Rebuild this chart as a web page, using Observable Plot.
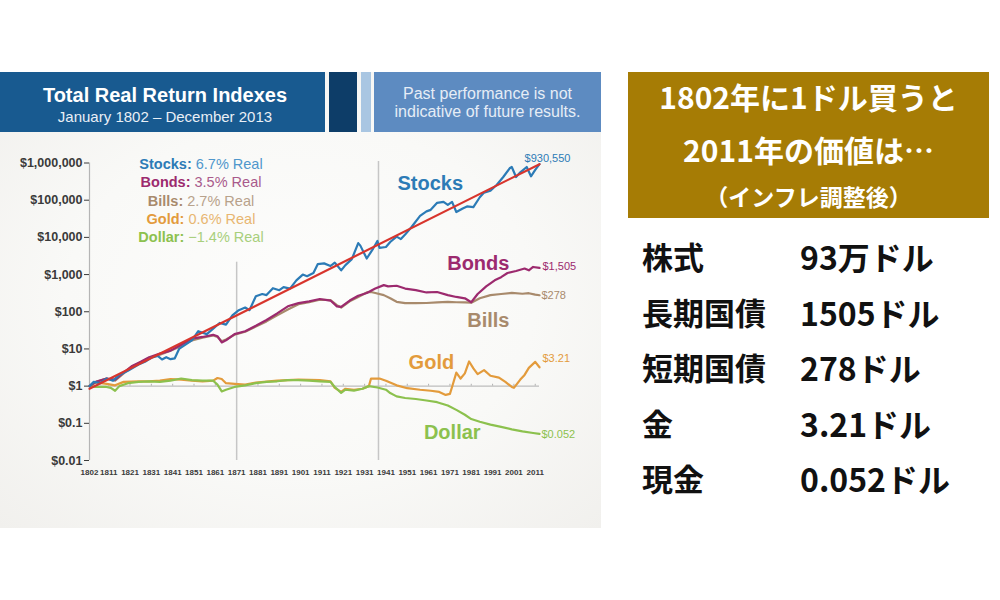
<!DOCTYPE html>
<html>
<head>
<meta charset="utf-8">
<script src="https://cdn.jsdelivr.net/npm/d3@7"></script>
<script src="https://cdn.jsdelivr.net/npm/@observablehq/plot@0.6"></script>
<style>
  html, body { margin: 0; padding: 0; background: #ffffff; }
  body { width: 1000px; height: 600px; position: relative; overflow: hidden; font-family: "Liberation Sans", Arial, sans-serif; }
  #panel { position: absolute; left: 0; top: 72px; width: 601px; height: 456px;
    background: radial-gradient(ellipse at 50% 50%, #fdfdfc 0%, #f9f9f7 55%, #f1f0ed 100%); overflow: hidden; }
  .blk { position: absolute; top: 0; height: 60px; }
  #hdr1 { left: 0; width: 325px; background: #185a90; }
  #hdr2 { left: 329px; width: 28px; background: #0d3d68; }
  #hdr3 { left: 361px; width: 10px; background: #a9c6e2; }
  #hdr4 { left: 374px; width: 227px; background: #5d8bc1; }
  #title { position: absolute; left: 0; width: 330px; top: 12px; text-align: center; color: #fff; font-weight: bold; font-size: 20px; }
  #subtitle { position: absolute; left: 0; width: 330px; top: 36px; text-align: center; color: #e9eff6; font-size: 15px; }
  #note { position: absolute; left: 374px; width: 227px; top: 13px; text-align: center; color: #e6edf6; font-size: 16px; line-height: 18px; }
  #chart { position: absolute; left: 0; top: 0; }
  #legend { position: absolute; left: 101px; width: 200px; top: 83px; text-align: center; font-size: 14.5px; line-height: 18.3px; }
  #legend b { font-weight: bold; }
  #jbox { position: absolute; left: 628px; top: 72px; width: 361px; height: 146px; background: #a67c05; color: #fff;
    font-family: "Noto Sans CJK JP", sans-serif; font-weight: bold; text-align: center; }
  #jbox .l1 { position: absolute; left: 0; width: 100%; top: 4px; font-size: 30px; line-height: 40px; }
  #jbox .l2 { position: absolute; left: 0; width: 100%; top: 57px; font-size: 30px; line-height: 40px; }
  #jbox .l3 { position: absolute; left: 0; width: 100%; top: 108px; font-size: 23px; line-height: 32px; }
  .row { position: absolute; left: 642px; font-family: "Noto Sans CJK JP", sans-serif; font-weight: bold; font-size: 31px; color: #111; line-height: 40px; height: 40px; }
  .row span.v { position: absolute; left: 158px; white-space: nowrap; font-size: 32px; }
  .row span.k { white-space: nowrap; }
</style>
</head>
<body>
<div id="panel">
  <div class="blk" id="hdr1"></div>
  <div class="blk" id="hdr2"></div>
  <div class="blk" id="hdr3"></div>
  <div class="blk" id="hdr4"></div>
  <div id="title">Total Real Return Indexes</div>
  <div id="subtitle">January 1802 – December 2013</div>
  <div id="note">Past performance is not<br>indicative of future results.</div>
  <div id="chart"></div>
  <div id="legend"></div>
</div>
<div id="jbox">
  <div class="l1">1802年に1ドル買うと</div>
  <div class="l2">2011年の価値は…</div>
  <div class="l3">（インフレ調整後）</div>
</div>
<div id="table"></div>
<script>
// ---------- data ----------
const xTickYears = [1802,1811,1821,1831,1841,1851,1861,1871,1881,1891,1901,1911,1921,1931,1941,1951,1961,1971,1981,1991,2001,2011];
const yTickValues = [0.01,0.1,1,10,100,1000,10000,100000,1000000];
const yTickLabels = ["$0.01","$0.1","$1","$10","$100","$1,000","$10,000","$100,000","$1,000,000"];

const stocks = [[1802,1],[1804,1.3],[1807,1.2],[1810,1.6],[1813,1.4],[1816,2],[1820,2.6],[1825,3.8],[1828,4.5],[1831,5.8],[1834,6.5],[1836,5.2],[1838,6.0],[1840,5.3],[1842,5.6],[1844,10],[1847,13],[1850,17],[1853,30],[1857,25],[1860,35],[1863,50],[1866,45],[1869,80],[1872,110],[1875,130],[1877,110],[1880,260],[1883,300],[1885,280],[1888,430],[1891,380],[1893,460],[1896,420],[1899,700],[1902,1000],[1904,900],[1907,1100],[1909,1900],[1912,2000],[1915,1700],[1917,2100],[1920,1300],[1922,1800],[1925,2600],[1928,7000],[1929,6000],[1932,2700],[1935,5000],[1937,8000],[1938,5200],[1941,5500],[1943,7500],[1946,10500],[1948,9000],[1950,12000],[1953,19000],[1957,38000],[1960,50000],[1962,55000],[1965,85000],[1968,90000],[1970,75000],[1972,90000],[1974,48000],[1977,60000],[1979,68000],[1982,65000],[1985,120000],[1987,160000],[1990,180000],[1993,260000],[1996,420000],[1999,720000],[2000,780000],[2002,420000],[2004,560000],[2007,780000],[2009,440000],[2011,650000],[2013,930550]];

const bonds = [[1802,1],[1805,1.3],[1810,1.6],[1814,1.5],[1818,2.3],[1822,3.5],[1826,4.5],[1830,6],[1835,7.5],[1840,9],[1845,13],[1850,19],[1855,21],[1860,24],[1862,22],[1864,15],[1866,17],[1870,25],[1875,30],[1880,42],[1885,60],[1890,90],[1895,140],[1900,170],[1905,190],[1910,220],[1915,200],[1918,140],[1920,135],[1924,200],[1928,270],[1932,320],[1936,420],[1940,520],[1942,480],[1946,500],[1950,420],[1955,380],[1960,330],[1965,340],[1970,280],[1974,250],[1978,230],[1981,180],[1984,300],[1988,480],[1992,700],[1995,850],[1998,1100],[2002,1250],[2006,1450],[2008,1300],[2010,1600],[2013,1505]];

const bills = [[1802,1],[1805,1.3],[1810,1.6],[1814,1.4],[1818,2.2],[1822,3.4],[1826,4.3],[1830,5.8],[1835,7],[1840,9],[1845,12],[1850,17],[1855,20],[1860,23],[1862,21],[1864,16],[1866,18],[1870,24],[1875,29],[1880,40],[1885,55],[1890,80],[1895,115],[1900,160],[1905,180],[1910,210],[1915,205],[1918,150],[1920,130],[1924,190],[1928,250],[1932,330],[1934,340],[1936,320],[1940,280],[1943,230],[1946,185],[1950,170],[1955,170],[1960,172],[1965,178],[1970,185],[1974,180],[1978,178],[1981,175],[1985,230],[1990,280],[1995,300],[2000,320],[2005,305],[2008,315],[2011,290],[2013,278]];

const gold = [[1802,1],[1805,1.25],[1810,1.15],[1814,1.05],[1818,1.3],[1825,1.35],[1830,1.35],[1835,1.4],[1840,1.55],[1845,1.5],[1850,1.4],[1855,1.35],[1860,1.4],[1862,1.65],[1864,1.55],[1866,1.2],[1870,1.15],[1875,1.1],[1880,1.25],[1890,1.4],[1900,1.5],[1910,1.45],[1915,1.35],[1917,0.9],[1920,0.7],[1922,0.85],[1926,0.8],[1930,0.85],[1933,1.0],[1934,1.6],[1938,1.6],[1941,1.4],[1946,1.05],[1951,0.88],[1957,0.8],[1962,0.75],[1966,0.7],[1969,0.58],[1971,0.62],[1972,0.95],[1974,2.3],[1976,1.6],[1978,2.2],[1980,4.6],[1982,3.0],[1984,2.1],[1987,2.7],[1990,1.9],[1994,1.7],[1997,1.3],[2000,0.95],[2001,0.9],[2004,1.5],[2006,2.0],[2008,3.1],[2011,4.5],[2013,3.21]];

const dollar = [[1802,1],[1805,0.95],[1810,0.95],[1812,0.9],[1814,0.75],[1816,1.0],[1820,1.2],[1825,1.3],[1830,1.35],[1835,1.3],[1840,1.4],[1845,1.6],[1850,1.45],[1855,1.4],[1860,1.4],[1862,1.1],[1864,0.72],[1866,0.8],[1870,0.95],[1875,1.05],[1880,1.2],[1885,1.3],[1890,1.35],[1895,1.45],[1900,1.45],[1905,1.4],[1910,1.35],[1915,1.3],[1917,0.95],[1920,0.66],[1922,0.8],[1926,0.76],[1930,0.85],[1933,1.0],[1937,0.92],[1941,0.8],[1943,0.65],[1946,0.53],[1950,0.48],[1955,0.45],[1960,0.41],[1965,0.37],[1970,0.3],[1974,0.23],[1978,0.17],[1981,0.13],[1985,0.11],[1990,0.092],[1995,0.08],[2000,0.069],[2005,0.061],[2010,0.055],[2013,0.052]];

const trend = [[1802,0.85],[2013,930550]];

const eraLines = [[1871,2150],[1937.5,1100000]];

const legendRows = [["Stocks:","6.7% Real"],["Bonds:","3.5% Real"],["Bills:","2.7% Real"],["Gold:","0.6% Real"],["Dollar:","\u22121.4% Real"]];
const seriesNames = ["Stocks","Bonds","Bills","Gold","Dollar"];
const endLabels = ["$930,550","$1,505","$278","$3.21","$0.052"];
// label anchors in data units (year, value)
const nameAnchors = [[1961.8,287000],[1984.3,2025],[1989,59.5],[1962.3,4.42],[1972.1,0.058]];

const tableKeys = ["株式","長期国債","短期国債","金","現金"];
const tableVals = ["93万ドル","1505ドル","278ドル","3.21ドル","0.052ドル"];

// ---------- styles ----------
const colors = { Stocks:"#2c7bb6", Bonds:"#9c2a6e", Bills:"#a88a6c", Gold:"#e39b3c", Dollar:"#8cc14e" };
const lightColors = { Stocks:"#4f97cc", Bonds:"#a95a8c", Bills:"#b8a28b", Gold:"#e8b671", Dollar:"#a8cf7c" };
const seriesData = { Stocks: stocks, Bonds: bonds, Bills: bills, Gold: gold, Dollar: dollar };
const endOffsets = { Stocks:[8,-6,"middle"], Bonds:[3,-1,"start"], Bills:[2,0,"start"], Gold:[3,-9,"start"], Dollar:[2,1,"start"] };

// legend
document.getElementById("legend").innerHTML = legendRows.map((r, i) => {
  const n = seriesNames[i];
  return `<div><b style="color:${colors[n]}">${r[0]}</b> <span style="color:${lightColors[n]}">${r[1]}</span></div>`;
}).join("");

// table
const rowTops = [236, 291.6, 347.2, 402.8, 458.4];
document.getElementById("table").innerHTML = tableKeys.map((k, i) =>
  `<div class="row" style="top:${rowTops[i]}px"><span class="k">${k}</span><span class="v">${tableVals[i]}</span></div>`).join("");

const X = d => d[0], Y = d => d[1];
const labelOf = new Map(yTickValues.map((v, i) => [v, yTickLabels[i]]));

const lineOrder = ["Gold","Dollar","Bills","Bonds","Stocks"];
const marks = [
  Plot.ruleX(eraLines, {x: d => d[0], y1: 0.01, y2: d => d[1], stroke: "#c6c6c6", strokeWidth: 1.5}),
  Plot.ruleY([1], {x1: 1802, x2: 2013, stroke: "#bdbdbd", strokeWidth: 1.2}),
  Plot.ruleX(xTickYears.slice(1), {x: d => d, y1: 1, y2: 1.12, stroke: "#b0b0b0"}),
  Plot.ruleX([1802], {y1: 0.01, y2: 1000000, stroke: "#b5b5b5", strokeWidth: 1.2}),
  Plot.axisY({ticks: yTickValues, tickFormat: d => labelOf.get(d), tickSize: 5, tickPadding: 2,
    fontSize: 12.5, fontWeight: "bold", color: "#3a3a3a", label: null, anchor: "left"}),
  Plot.axisX({ticks: xTickYears, tickFormat: d => String(d), tickSize: 0, tickPadding: 9,
    fontSize: 8, fontWeight: "bold", color: "#3a3a3a", label: null, anchor: "bottom"}),
  ...lineOrder.map(n => Plot.line(seriesData[n], {x: X, y: Y, stroke: colors[n], strokeWidth: 2.2, strokeLinejoin: "round"})),
  Plot.line(trend, {x: X, y: Y, stroke: "#d8352d", strokeWidth: 2.2}),
  ...seriesNames.map((n, i) => Plot.text([nameAnchors[i]], {x: X, y: Y, text: () => n, fill: colors[n],
    fontSize: 20, fontWeight: "bold", textAnchor: "middle"})),
  ...seriesNames.map((n, i) => {
    const d = seriesData[n], last = d[d.length - 1], o = endOffsets[n];
    return Plot.text([last], {x: X, y: Y, text: () => endLabels[i], fill: colors[n], fontSize: 11,
      textAnchor: o[2], dx: o[0], dy: o[1]});
  })
];

const chart = Plot.plot({
  width: 600, height: 456,
  marginLeft: 89, marginRight: 61, marginTop: 90.5, marginBottom: 68,
  x: {domain: [1802, 2013], axis: null},
  y: {type: "log", domain: [0.01, 1000000], axis: null},
  style: {background: "transparent", fontFamily: "Liberation Sans, Arial, sans-serif", overflow: "visible"},
  marks
});
document.getElementById("chart").appendChild(chart);
</script>
</body>
</html>
